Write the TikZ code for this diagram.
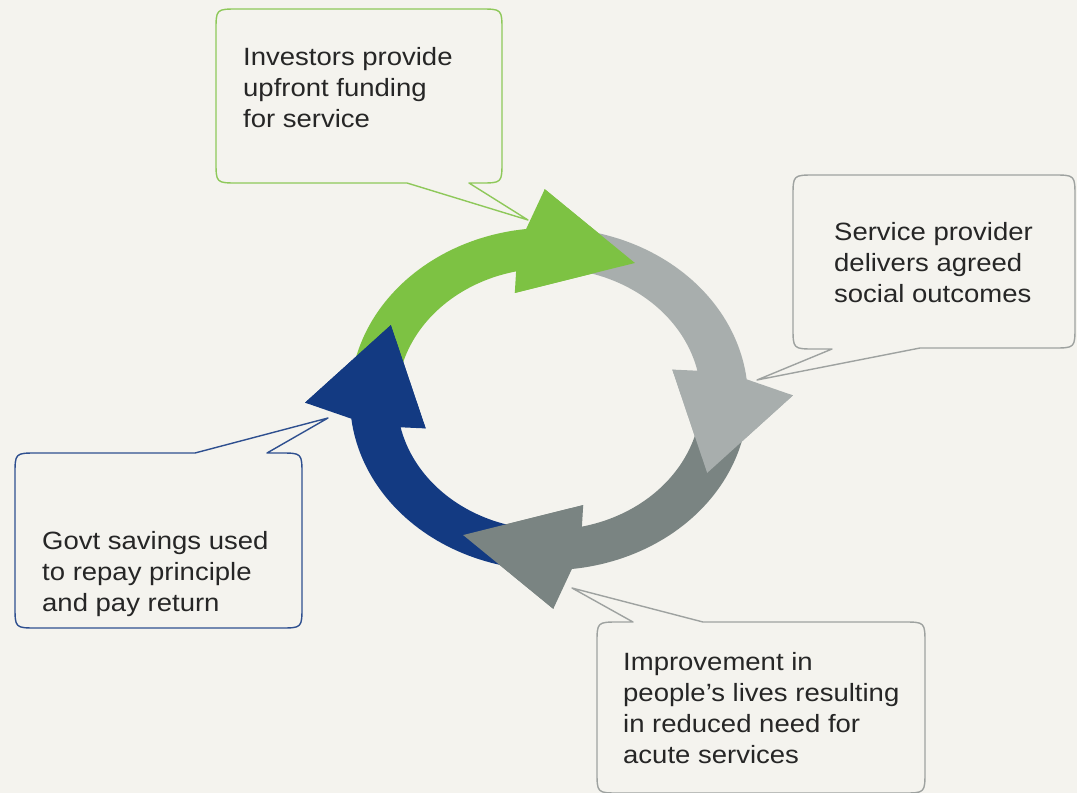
\documentclass[tikz,border=0pt]{standalone}
\usepackage{fontspec}
\newfontfamily\labfont{Liberation Sans}[FakeStretch=1.1]
\definecolor{bgc}{HTML}{F4F3EE}
\definecolor{agreen}{HTML}{7DC243}
\definecolor{alight}{HTML}{A8AEAD}
\definecolor{adark}{HTML}{7A8482}
\definecolor{ablue}{HTML}{133A82}
\definecolor{cgreen}{HTML}{8EC85A}
\definecolor{cgrey}{HTML}{9EA2A0}
\definecolor{cblue}{HTML}{2E4F8F}
\definecolor{txtc}{HTML}{262626}
\newcommand\ringarrow[2]{%
  \pgfmathsetmacro\rA{#1+89}%
  \pgfmathsetmacro\rB{#1+5.6}%
  \pgfmathsetmacro\rC{#1+11.5}%
  \pgfmathsetmacro\rT{#1-29.5}%
  \pgfmathsetmacro\rI{#1+14.5}%
  \fill[#2] plot[domain=\rA:\rB, samples=50] (\x:199) -- (#1:244) -- (\rT:180) -- (\rI:128) -- (\rC:152)
     -- plot[domain=\rC:\rA, samples=50] (\x:152) -- cycle;}
\newcommand\ringhead[2]{%
  \pgfmathsetmacro\rT{#1-29.5}%
  \pgfmathsetmacro\rI{#1+14.5}%
  \fill[#2] (#1:244) -- (\rT:180) -- (\rI:128) -- cycle;}
\tikzset{
  lbl/.style={anchor=base west, inner sep=0pt, text=txtc, font=\labfont\fontsize{25}{31}\selectfont},
  callout/.style={line width=1.4pt, line join=round}
}
\begin{document}
\begin{tikzpicture}[x=1pt,y=-1pt]
\useasboundingbox (0,0) rectangle (1077,793);
\fill[bgc] (0,0) rectangle (1077,793);

% ring of arrows
\begin{scope}[shift={(549pt,-399pt)}, y={(0pt,0.86pt)}]
  \ringarrow{91}{agreen}
  \ringarrow{1}{alight}
  \ringarrow{-89}{adark}
  \ringarrow{181}{ablue}
  \ringhead{91}{agreen}
  \ringhead{1}{alight}
  \ringhead{-89}{adark}
  \ringhead{181}{ablue}
\end{scope}

% callout: investors (green)
\draw[callout, cgreen] (238,9) -- (480,9) .. controls (502,9) .. (502,31) -- (502,161)
  .. controls (502,183) .. (480,183) -- (469,183) -- (528,220) -- (407,183) -- (238,183)
  .. controls (216,183) .. (216,161) -- (216,31) .. controls (216,9) .. (238,9) -- cycle;
\node[lbl] (investors) at (243,65) {\begin{tabular}[t]{@{}l@{}}Investors provide\\upfront funding\\for service\end{tabular}};

% callout: service provider (grey)
\draw[callout, cgrey] (815,175) -- (1053,175) .. controls (1075,175) .. (1075,197) -- (1075,326)
  .. controls (1075,348) .. (1053,348) -- (920,348) -- (757,380) -- (832,349) -- (815,349)
  .. controls (793,349) .. (793,327) -- (793,197) .. controls (793,175) .. (815,175) -- cycle;
\node[lbl] (provider) at (834,240) {\begin{tabular}[t]{@{}l@{}}Service provider\\delivers agreed\\social outcomes\end{tabular}};

% callout: govt savings (blue)
\draw[callout, cblue] (37,453) -- (195,453) -- (328,418) -- (267,453) -- (280,453)
  .. controls (302,453) .. (302,475) -- (302,606) .. controls (302,628) .. (280,628) -- (37,628)
  .. controls (15,628) .. (15,606) -- (15,475) .. controls (15,453) .. (37,453) -- cycle;
\node[lbl] (govt) at (42,549) {\begin{tabular}[t]{@{}l@{}}Govt savings used\\to repay principle\\and pay return\end{tabular}};

% callout: improvement (grey)
\draw[callout, cgrey] (619,622) -- (633,622) -- (572,588) -- (703,622) -- (903,622)
  .. controls (925,622) .. (925,644) -- (925,771) .. controls (925,793) .. (903,793) -- (619,793)
  .. controls (597,793) .. (597,771) -- (597,644) .. controls (597,622) .. (619,622) -- cycle;
\node[lbl] (improve) at (623,670) {\begin{tabular}[t]{@{}l@{}}Improvement in\\people’s lives resulting\\in reduced need for\\acute services\end{tabular}};
\end{tikzpicture}
\end{document}
